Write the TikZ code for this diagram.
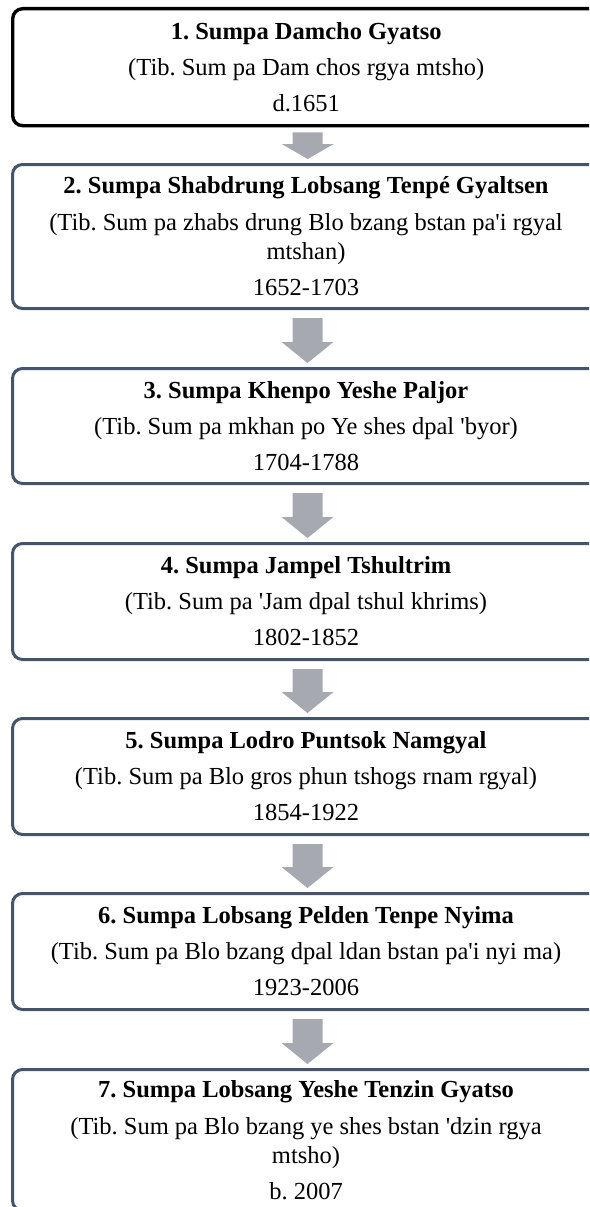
\documentclass[tikz,border=0pt]{standalone}
\usepackage{fontspec}
\setmainfont{Liberation Serif}
\usetikzlibrary{calc}
\definecolor{boxline}{HTML}{44546A}
\definecolor{arrowgray}{HTML}{A6A9B0}
\newcommand{\myq}{\textquotesingle}
\frenchspacing
\tikzset{
  stagebox/.style={draw=boxline, line width=3pt, rounded corners=10pt, fill=white,
    minimum width=587pt, anchor=north west, align=center, inner sep=0pt,
    font=\fontsize{24.5pt}{29pt}\selectfont},
  firstbox/.style={stagebox, draw=black, line width=3.4pt},
  blockarrow/.style={fill=arrowgray, draw=none},
}
\newcommand{\barrow}[4]{%
  \path[blockarrow] let \p1=(#1.south), \p2=(#2.north), \n1={\x1+1.5pt} in
    (\n1-15pt, \y1-#3) -- (\n1+15pt, \y1-#3) -- (\n1+15pt, \y2+#4) --
    (\n1+26pt, \y2+#4) -- (\n1, \y2+4pt) -- (\n1-26pt, \y2+#4) --
    (\n1-15pt, \y2+#4) -- cycle;}
\begin{document}
\begin{tikzpicture}[x=1pt, y=-1pt]
\useasboundingbox (0,0) rectangle (589,1207);
\clip (0,0) rectangle (589,1207);
\node[firstbox, minimum height=117pt] (b1) at (11,7)
  {\textbf{1. Sumpa Damcho Gyatso}\\[7pt](Tib. Sum pa Dam chos rgya mtsho)\\[7pt]d.1651};
\node[stagebox, minimum height=144pt] (b2) at (11,163)
  {\textbf{2. Sumpa Shabdrung Lobsang Tenpé Gyaltsen}\\[8pt](Tib. Sum pa zhabs drung Blo bzang bstan pa\myq i rgyal\\mtshan)\\[7pt]1652-1703};
\node[stagebox, minimum height=115pt] (b3) at (11,367)
  {\textbf{3. Sumpa Khenpo Yeshe Paljor}\\[7pt](Tib. Sum pa mkhan po Ye shes dpal \myq byor)\\[7pt]1704-1788};
\node[stagebox, minimum height=116pt] (b4) at (11,542)
  {\textbf{4. Sumpa Jampel Tshultrim}\\[7pt](Tib. Sum pa \myq Jam dpal tshul khrims)\\[7pt]1802-1852};
\node[stagebox, minimum height=116pt] (b5) at (11,717)
  {\textbf{5. Sumpa Lodro Puntsok Namgyal}\\[7pt](Tib. Sum pa Blo gros phun tshogs rnam rgyal)\\[7pt]1854-1922};
\node[stagebox, minimum height=116pt] (b6) at (11,892)
  {\textbf{6. Sumpa Lobsang Pelden Tenpe Nyima}\\[7pt](Tib. Sum pa Blo bzang dpal ldan bstan pa\myq i nyi ma)\\[7pt]1923-2006};
\node[stagebox, minimum height=141pt] (b7) at (11,1068)
  {\textbf{7. Sumpa Lobsang Yeshe Tenzin Gyatso}\\[8pt](Tib. Sum pa Blo bzang ye shes bstan \myq dzin rgya\\mtsho)\\[7pt]b. 2007};
\barrow{b1}{b2}{5pt}{19pt}
\barrow{b2}{b3}{8pt}{25pt}
\barrow{b3}{b4}{8pt}{25pt}
\barrow{b4}{b5}{8pt}{25pt}
\barrow{b5}{b6}{8pt}{25pt}
\barrow{b6}{b7}{8pt}{25pt}
\end{tikzpicture}
\end{document}
